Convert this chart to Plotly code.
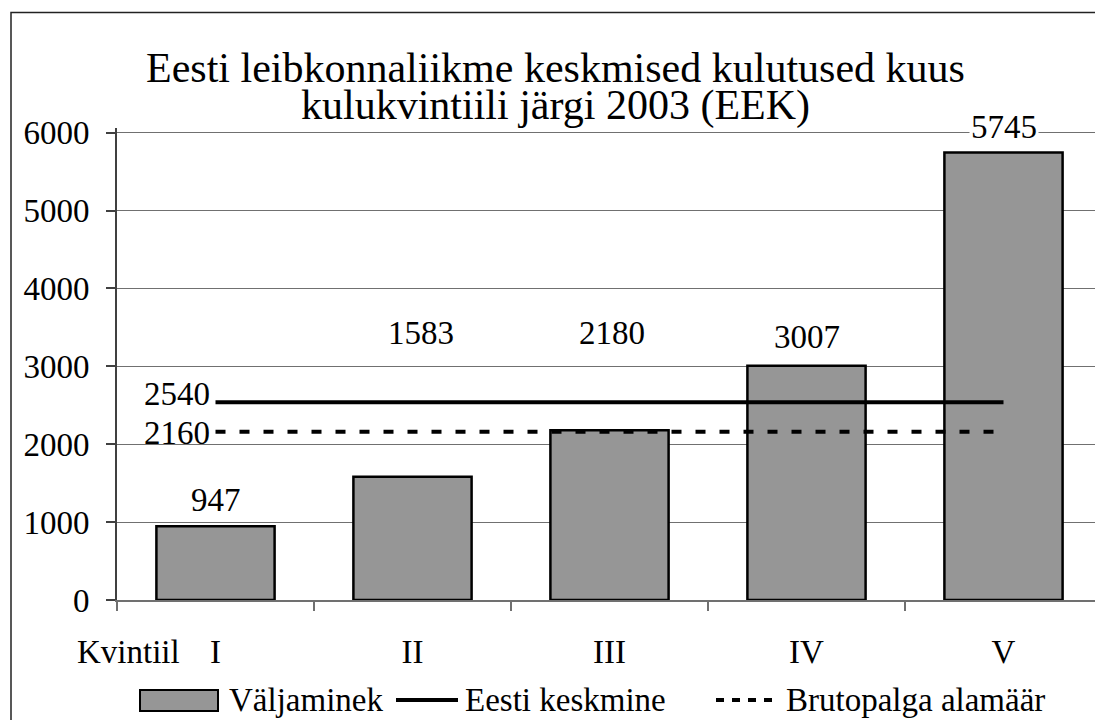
import plotly.graph_objects as go

categories = ["I", "II", "III", "IV", "V"]
spending = [947, 1583, 2180, 3007, 5745]
mean_value = 2540
min_wage = 2160
y_ticks = [0, 1000, 2000, 3000, 4000, 5000, 6000]

title_lines = ["Eesti leibkonnaliikme keskmised kulutused kuus",
               "kulukvintiili järgi 2003 (EEK)"]
series_names = ["Väljaminek", "Eesti keskmine", "Brutopalga alamäär"]
x_axis_label = "Kvintiil"

FONT = "Liberation Serif, Times New Roman, serif"
W, H = 1095, 720
Y_TOP = 6060
SCALE = 467 / 6000.0          # px per unit (0 at y=600, 6000 at y=133)
L, R, B = 117, 0, 120
T = 133 - (Y_TOP - 6000) * SCALE
PW = W - L - R
PH = H - T - B


def px(x):
    return (x - L) / PW


def py(y):
    return (H - B - y) / PH


fig = go.Figure()

fig.add_trace(go.Bar(
    x=categories, y=spending, name=series_names[0],
    marker=dict(color="#969696", line=dict(color="black", width=2.5)),
    width=0.6, showlegend=False,
))
fig.add_trace(go.Scatter(
    x=categories, y=[mean_value] * len(categories), name=series_names[1],
    mode="lines", line=dict(color="black", width=4), showlegend=False,
))
fig.add_trace(go.Scatter(
    x=categories, y=[min_wage] * len(categories), name=series_names[2],
    mode="lines", line=dict(color="black", width=4, dash="10px,14px"),
    showlegend=False,
))

annotations = []
# title
for i, (txt, yc) in enumerate(zip(title_lines, [68, 106])):
    annotations.append(dict(
        text=txt, xref="paper", yref="paper", x=px(555), y=py(yc),
        xanchor="center", yanchor="middle", showarrow=False,
        font=dict(family=FONT, size=42, color="black"),
    ))

# bar value labels
for cat, v in zip(categories, spending):
    yv, shift, xs = v, 26, 0
    if cat in ("II", "III"):
        # labels lifted above the mean line, as in the original
        yv, shift = mean_value, 69
        xs = 8 if cat == "II" else 2
    if cat == "IV":
        shift = 29
    annotations.append(dict(
        text=str(v), x=cat, y=yv, xref="x", yref="y", yshift=shift, xshift=xs,
        xanchor="center", yanchor="middle", showarrow=False,
        bgcolor="white" if cat == "V" else "rgba(0,0,0,0)",
        font=dict(family=FONT, size=33, color="black"),
    ))

# line value labels
for val, shift in [(mean_value, 8), (min_wage, -1)]:
    annotations.append(dict(
        text=str(val), x=categories[0], y=val, xref="x", yref="y",
        xanchor="right", yanchor="middle", xshift=-4, yshift=shift,
        showarrow=False, font=dict(family=FONT, size=33, color="black"),
    ))

# x axis label
annotations.append(dict(
    text=x_axis_label, xref="paper", yref="paper", x=px(128), y=py(652),
    xanchor="center", yanchor="middle", showarrow=False,
    font=dict(family=FONT, size=33, color="black"),
))

# legend texts
for name, xl in zip(series_names, [227, 463, 784]):
    annotations.append(dict(
        text=name, xref="paper", yref="paper", x=px(xl), y=py(700),
        xanchor="left", yanchor="middle", showarrow=False,
        font=dict(family=FONT, size=33, color="black"),
    ))

shapes = [
    # outer chart border (cropped on right and bottom)
    dict(type="rect", xref="paper", yref="paper",
         x0=px(11), x1=px(1200), y0=py(800), y1=py(13),
         line=dict(color="#222222", width=1.5), fillcolor="rgba(0,0,0,0)",
         layer="below"),
    # legend symbols
    dict(type="rect", xref="paper", yref="paper",
         x0=px(140), x1=px(218), y0=py(711), y1=py(690),
         line=dict(color="black", width=2), fillcolor="#969696"),
    dict(type="line", xref="paper", yref="paper",
         x0=px(396), x1=px(458), y0=py(700), y1=py(700),
         line=dict(color="black", width=4)),
    dict(type="line", xref="paper", yref="paper",
         x0=px(716), x1=px(778), y0=py(700), y1=py(700),
         line=dict(color="black", width=4, dash="8px,8px")),
]

fig.update_layout(
    width=W, height=H,
    margin=dict(l=L, r=R, t=T, b=B, pad=0),
    paper_bgcolor="white", plot_bgcolor="white",
    showlegend=False,
    annotations=annotations, shapes=shapes,
    bargap=0.4,
    font=dict(family=FONT, size=33, color="black"),
)
fig.update_yaxes(
    range=[0, Y_TOP], tickvals=y_ticks, ticktext=[str(t) for t in y_ticks],
    showgrid=True, gridcolor="#707070", gridwidth=1,
    showline=True, linecolor="#404040", linewidth=2,
    ticks="outside", ticklen=9, tickcolor="#404040", tickwidth=1.5,
    ticklabelstandoff=10, zeroline=False,
    tickfont=dict(family=FONT, size=33, color="black"),
)
fig.update_xaxes(
    type="category", range=[-0.5, -0.5 + PW / 197.0],
    showgrid=False, showline=True, linecolor="#707070", linewidth=1.5,
    ticks="outside", ticklen=9, tickcolor="#707070", tickwidth=1.5,
    tickson="boundaries", ticklabelstandoff=22,
    tickfont=dict(family=FONT, size=33, color="black"),
)

fig.write_html(
    "out.html",
    config={"displayModeBar": False},
    post_script="document.body.style.margin='0';document.body.style.overflow='hidden';",
)
